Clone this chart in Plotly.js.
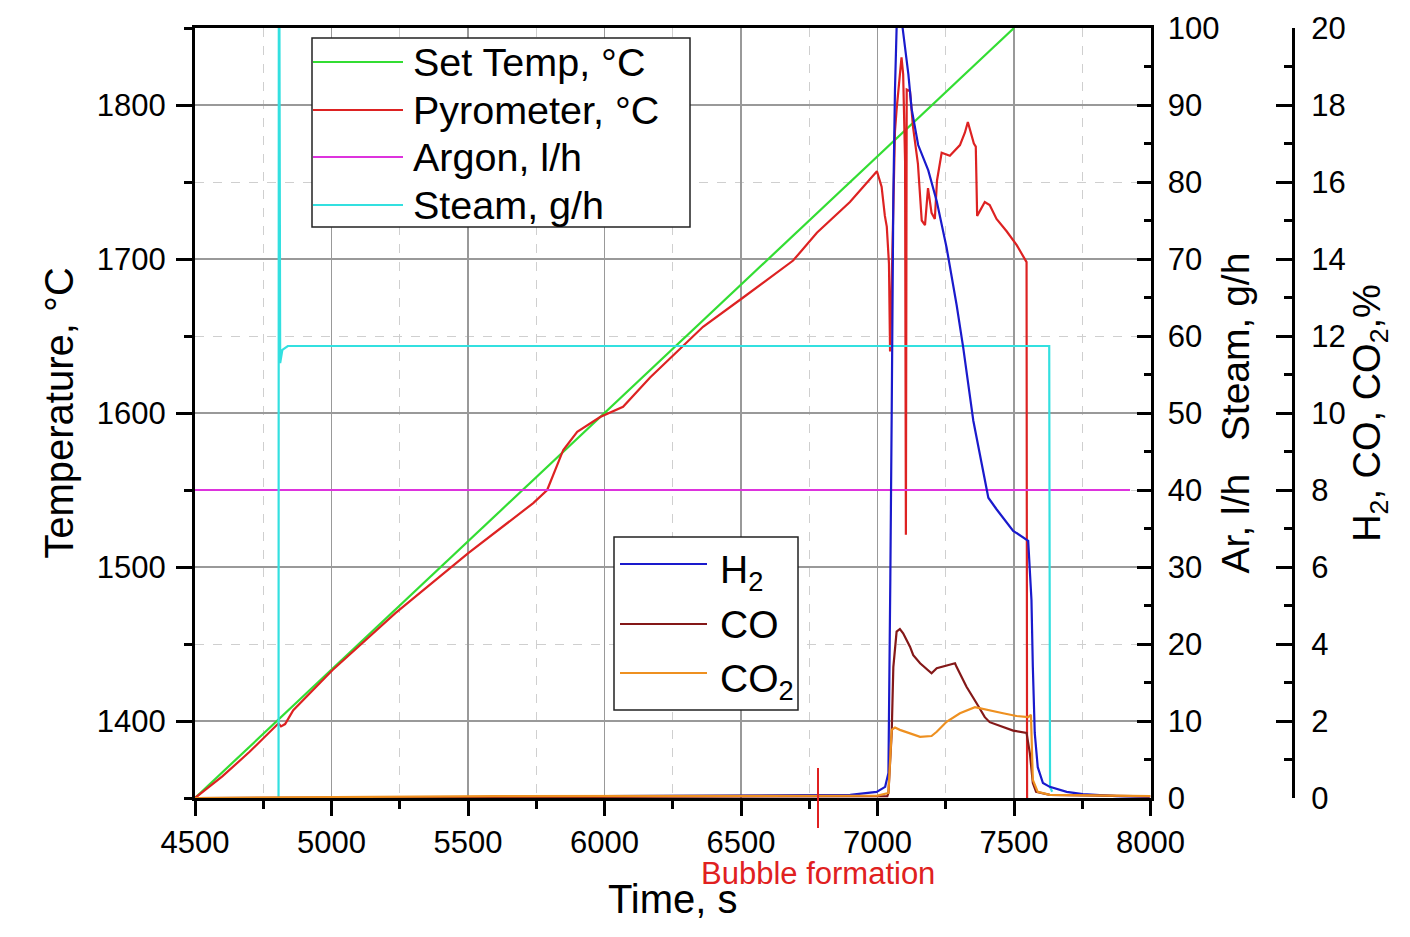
<!DOCTYPE html>
<html>
<head>
<meta charset="utf-8">
<script src="https://cdn.plot.ly/plotly-3.0.1.min.js"></script>
<style>html,body{margin:0;padding:0;background:#fff;}#chart{width:1410px;height:937px;}</style>
</head>
<body>
<div id="chart"></div>
<script>
// ---- Data ----
const setTempTime = [4500, 7500];
const setTemp     = [1350, 1850];

const pyroTime = [4500, 4600, 4700, 4806, 4815, 4830, 4860, 5003, 5234, 5501, 5739, 5790, 5849, 5900, 5984, 6068, 6167, 6288, 6361, 6508, 6691, 6778, 6899, 6998, 7015, 7027, 7034, 7042, 7046, 7049, 7064, 7070, 7088, 7094, 7101, 7104, 7107, 7119, 7130, 7148, 7162, 7174, 7185, 7198, 7210, 7218, 7235, 7265, 7302, 7320, 7331, 7353, 7360, 7365, 7393, 7411, 7436, 7473, 7510, 7546, 7548];
const pyro     = [1350, 1364, 1380, 1398.5, 1396.5, 1398, 1407, 1433, 1470, 1509, 1541.5, 1550, 1576, 1587.7, 1597.4, 1604, 1623, 1644, 1656, 1675, 1699, 1717, 1737, 1757, 1747, 1728, 1721, 1697, 1640, 1660, 1783, 1797, 1831, 1820, 1764, 1521, 1810, 1809, 1786, 1762, 1725, 1722, 1746, 1730, 1726, 1751, 1769, 1767, 1774, 1782, 1789, 1775, 1773, 1728, 1737, 1735, 1726, 1718, 1709, 1698, 1340];

const argonTime = [4500, 7925];
const argon     = [40, 40];

const steamTime = [4800, 4806, 4807, 4809, 4812, 4820, 4840, 7629, 7632, 7640];
const steam     = [0, 0, 105, 105, 56.5, 58.2, 58.7, 58.7, 1.4, 0.8];

const h2Time = [4500, 5400, 5800, 6500, 6900, 6997, 7028, 7040, 7044, 7047, 7052, 7058, 7064, 7070, 7081, 7092, 7113, 7125, 7149, 7168, 7186, 7217, 7253, 7290, 7314, 7351, 7387, 7406, 7436, 7497, 7552, 7558, 7564, 7569, 7576, 7587, 7606, 7631, 7693, 7752, 7876, 7997];
const h2     = [0, 0, 0.04, 0.06, 0.08, 0.16, 0.29, 0.65, 3.0, 5.7, 10, 15.6, 18.4, 20, 21, 20, 18.8, 17.9, 16.96, 16.64, 16.3, 15.5, 14.3, 12.8, 11.7, 9.8, 8.5, 7.8, 7.5, 6.94, 6.68, 5.74, 5.14, 3.4, 1.69, 0.8, 0.39, 0.29, 0.16, 0.1, 0.05, 0.03];

const coTime = [4500, 6900, 7036, 7040, 7052, 7058, 7070, 7082, 7094, 7119, 7131, 7156, 7198, 7217, 7253, 7284, 7290, 7326, 7363, 7393, 7411, 7460, 7497, 7546, 7558, 7569, 7581, 7631, 8000];
const co     = [0, 0.03, 0.05, 0.13, 1.69, 3.4, 4.32, 4.39, 4.28, 3.93, 3.71, 3.5, 3.24, 3.37, 3.45, 3.5, 3.4, 2.89, 2.46, 2.1, 1.97, 1.85, 1.75, 1.69, 1.17, 0.39, 0.16, 0.08, 0.04];

const co2Time = [4500, 5600, 7000, 7040, 7052, 7064, 7082, 7113, 7156, 7198, 7217, 7253, 7302, 7357, 7399, 7460, 7509, 7552, 7562, 7566, 7569, 7587, 7631, 8000];
const co2     = [0, 0.05, 0.06, 0.13, 1.77, 1.83, 1.77, 1.69, 1.59, 1.61, 1.72, 1.98, 2.2, 2.36, 2.29, 2.2, 2.13, 2.1, 2.16, 0.9, 0.47, 0.16, 0.08, 0.05];

const bubbleTime = 6782;
const bubbleLabel = 'Bubble formation';

// ---- Styles ----
const FONT = 'Liberation Sans, Arial, sans-serif';
const LW = 2.2;
const traces = [
  {x: setTempTime, y: setTemp, name: 'Set Temp, °C', yaxis: 'y', line: {color: '#33dd33', width: LW}},
  {x: pyroTime, y: pyro, name: 'Pyrometer, °C', yaxis: 'y', line: {color: '#dd2222', width: LW}},
  {x: argonTime, y: argon, name: 'Argon, l/h', yaxis: 'y2', line: {color: '#dd33dd', width: LW}},
  {x: steamTime, y: steam, name: 'Steam, g/h', yaxis: 'y2', line: {color: '#33e0e0', width: LW}},
  {x: h2Time, y: h2, name: 'H<sub>2</sub>', yaxis: 'y3', line: {color: '#1a1acc', width: LW}},
  {x: coTime, y: co, name: 'CO', yaxis: 'y3', line: {color: '#841818', width: LW}},
  {x: co2Time, y: co2, name: 'CO<sub>2</sub>', yaxis: 'y3', line: {color: '#ee9020', width: LW}}
].map(t => Object.assign({type: 'scatter', mode: 'lines', showlegend: false}, t));

// plot geometry (pixels) used to place the legend boxes in paper coordinates
const M = {l: 195, r: 117, t: 28, b: 139};
const PW = 1410 - M.l - M.r, PH = 937 - M.t - M.b;
const px = v => (v - M.l) / PW;
const py = v => (937 - M.b - v) / PH;

const shapes = [
  {type: 'line', xref: 'x', yref: 'paper', x0: bubbleTime, x1: bubbleTime, y0: py(768), y1: py(828), line: {color: '#e02020', width: 2}}
];
const annotations = [
  {xref: 'x', yref: 'paper', x: bubbleTime, y: py(873), text: bubbleLabel, showarrow: false,
   font: {color: '#e02020', size: 31, family: FONT}, xanchor: 'center', yanchor: 'middle'}
];

function addLegend(box, rows, traceIdx, lineX0, lineX1, textX, fontSize, dy) {
  shapes.push({type: 'rect', xref: 'paper', yref: 'paper', x0: px(box[0]), x1: px(box[1]), y0: py(box[3]), y1: py(box[2]),
               fillcolor: '#ffffff', line: {color: '#222', width: 1.5}, layer: 'above'});
  traceIdx.forEach((ti, k) => {
    const tr = traces[ti];
    shapes.push({type: 'line', xref: 'paper', yref: 'paper', x0: px(lineX0), x1: px(lineX1), y0: py(rows[k]), y1: py(rows[k]),
                 line: {color: tr.line.color, width: 2}, layer: 'above'});
    annotations.push({xref: 'paper', yref: 'paper', x: px(textX), y: py(rows[k] + (dy[k] || 0)), text: tr.name, showarrow: false,
                      xanchor: 'left', yanchor: 'middle', font: {size: fontSize, family: FONT, color: '#000'}});
  });
}
addLegend([312, 690, 38, 227], [62, 110, 157, 205], [0, 1, 2, 3], 313, 403, 411, 39.5, [0, 0, 0, 0]);
addLegend([614, 798, 537, 710], [564, 624, 673], [4, 5, 6], 620, 707, 718, 39, [8, 0, 8]);

const layout = {
  width: 1410, height: 937,
  margin: M,
  paper_bgcolor: '#ffffff', plot_bgcolor: '#ffffff',
  font: {family: FONT, color: '#000', size: 31},
  showlegend: false,
  xaxis: {
    domain: [0, (1150.5 - M.l) / PW], range: [4500, 8000], dtick: 500, tick0: 4500,
    showline: true, linecolor: '#000', linewidth: 3, mirror: true,
    ticks: 'outside', ticklen: 15, tickwidth: 3, tickcolor: '#000',
    showgrid: true, gridcolor: '#999', gridwidth: 1.5, zeroline: false,
    minor: {dtick: 250, ticklen: 8, tickwidth: 3, tickcolor: '#000', ticks: 'outside', showgrid: true, gridcolor: '#cfcfcf', griddash: 'dash', gridwidth: 1},
    tickfont: {size: 31},
    title: {text: 'Time, s', font: {size: 40}, standoff: 26}
  },
  yaxis: {
    range: [1350, 1850], dtick: 100, tick0: 1400,
    showline: true, linecolor: '#000', linewidth: 3,
    ticks: 'outside', ticklen: 16, tickwidth: 3, tickcolor: '#000',
    showgrid: true, gridcolor: '#999', gridwidth: 1.5, zeroline: false,
    minor: {dtick: 50, ticklen: 8, tickwidth: 3, tickcolor: '#000', ticks: 'outside', showgrid: true, gridcolor: '#cfcfcf', griddash: 'dash', gridwidth: 1},
    tickfont: {size: 31}, ticklabelstandoff: 4,
    title: {text: 'Temperature, °C', font: {size: 40}, standoff: 11}
  },
  yaxis2: {
    overlaying: 'y', side: 'right', anchor: 'x',
    range: [0, 100], dtick: 10,
    showline: true, linecolor: '#000', linewidth: 3,
    ticks: 'inside', ticklen: 14, tickwidth: 3, tickcolor: '#000',
    showgrid: false, zeroline: false,
    minor: {dtick: 5, ticklen: 7, tickwidth: 3, tickcolor: '#000', ticks: 'inside', showgrid: false},
    tickfont: {size: 31}, ticklabelstandoff: 8,
    title: {text: 'Ar, l/h\u00a0\u00a0\u00a0Steam, g/h', font: {size: 39}, standoff: 4}
  },
  yaxis3: {
    overlaying: 'y', side: 'right', anchor: 'free', position: 1,
    range: [0, 20], dtick: 2,
    showline: true, linecolor: '#000', linewidth: 3,
    ticks: 'inside', ticklen: 16, tickwidth: 3, tickcolor: '#000',
    showgrid: false, zeroline: false,
    minor: {dtick: 1, ticklen: 8, tickwidth: 3, tickcolor: '#000', ticks: 'inside', showgrid: false},
    tickfont: {size: 31}, ticklabelstandoff: 10,
    title: {text: 'H<sub>2</sub>, CO, CO<sub>2</sub>,%', font: {size: 38}, standoff: 8}
  },
  shapes: shapes,
  annotations: annotations
};

Plotly.newPlot('chart', traces, layout, {displayModeBar: false, staticPlot: true});
</script>
</body>
</html>
